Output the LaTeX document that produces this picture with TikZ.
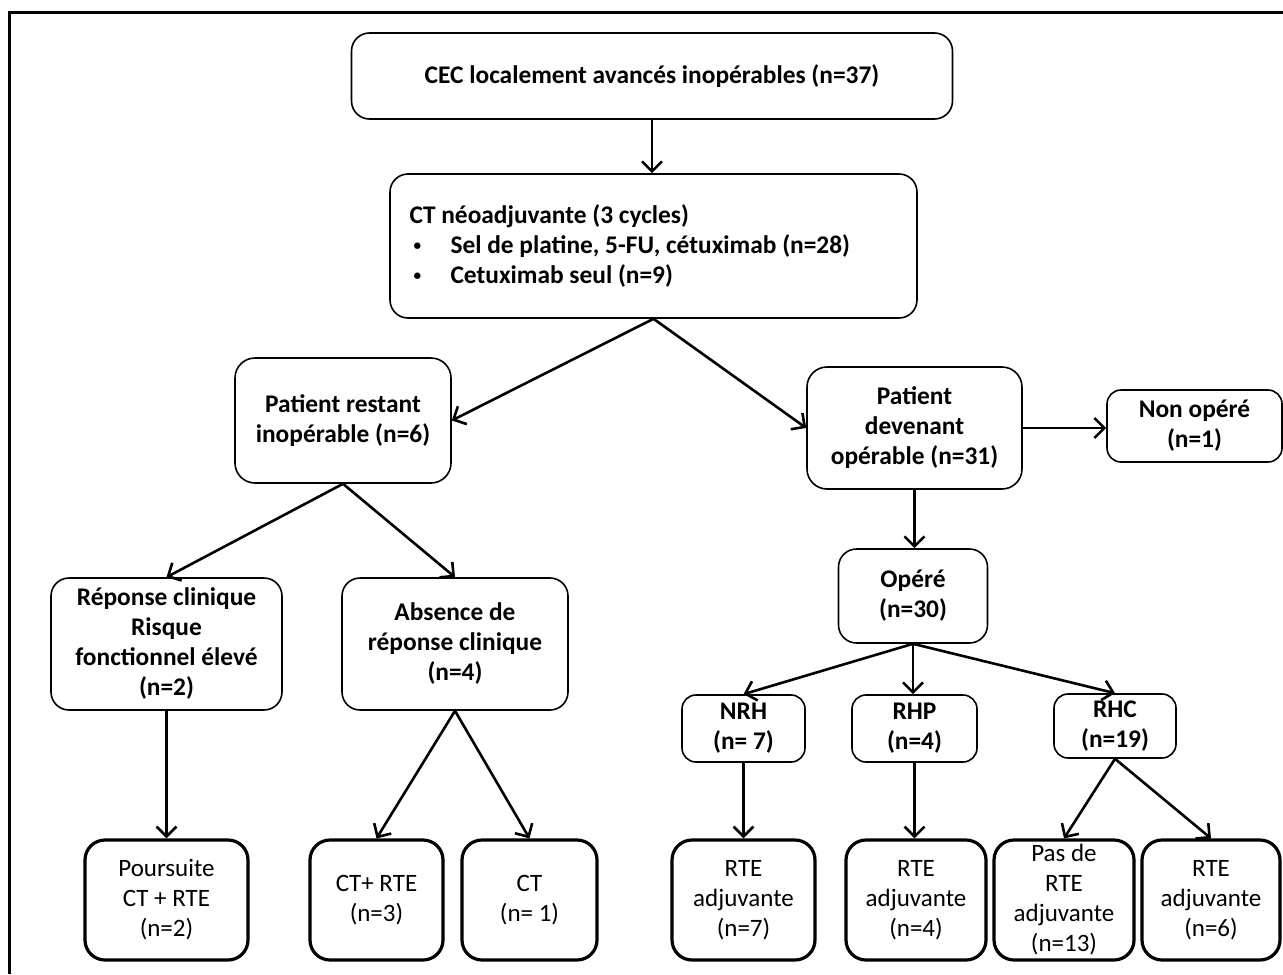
\documentclass[tikz,border=0pt]{standalone}
\usepackage{fontspec}
\setmainfont{Carlito}
\usetikzlibrary{arrows.meta}

\newcommand{\smallbullet}{\makebox[20.5pt][l]{\,\raisebox{0.25ex}{\scalebox{0.6}{•}}}}

\begin{document}
\begin{tikzpicture}
[x=0.5pt, y=-0.5pt,
 every node/.style={draw, rounded corners=9pt, align=center, inner sep=0pt, font=\fontsize{12.5}{15}\selectfont},
 box/.style={line width=0.8pt, font=\fontsize{12.7}{15}\selectfont\bfseries},
 endbox/.style={line width=1.6pt, rounded corners=10pt, minimum height=60pt},
 arr/.style={line width=1.3pt, -{Straight Barb[length=5pt,width=10pt]}}]
\useasboundingbox (0,0) rectangle (1283,974);
\draw[line width=1.5pt] (9,974) -- (9,13) -- (1283,13);

\node[box, minimum width=300.5pt, minimum height=43pt] (cec) at (652,76) {CEC localement avancés inopérables (n=37)};
\node[box, minimum width=263.5pt, minimum height=72pt, text width=244pt, align=flush left] (neo) at (653.5,246)
  {CT néoadjuvante (3 cycles)\\
   \smallbullet Sel de platine, 5-FU, cétuximab (n=28)\\
   \smallbullet Cetuximab seul (n=9)};

\node[box, minimum width=108pt, minimum height=62.5pt, rounded corners=10pt] (restant) at (343,420.5) {Patient restant\\inopérable (n=6)};
\node[box, minimum width=107.5pt, minimum height=61pt, rounded corners=10pt] (devenant) at (914.5,428) {Patient\\devenant\\opérable (n=31)};
\node[box, minimum width=87.5pt, minimum height=36pt, rounded corners=7pt] (nonop) at (1194.5,426) {Non opéré\\(n=1)};

\node[box, minimum width=115.5pt, minimum height=66pt] (reponse) at (166.5,644) {Réponse clinique\\Risque\\fonctionnel élevé\\(n=2)};
\node[box, minimum width=113pt, minimum height=66pt] (absence) at (455,644) {Absence de\\réponse clinique\\(n=4)};
\node[box, minimum width=74.5pt, minimum height=47pt] (opere) at (913,596) {Opéré\\(n=30)};

\node[box, minimum width=61.5pt, minimum height=33.5pt, rounded corners=7pt] (nrh) at (743.5,728.5) {NRH\\(n= 7)};
\node[box, minimum width=62.5pt, minimum height=33.5pt, rounded corners=7pt] (rhp) at (914.5,728.5) {RHP\\(n=4)};
\node[box, minimum width=61pt, minimum height=32pt, rounded corners=7pt] (rhc) at (1115,726) {RHC\\(n=19)};

\node[endbox, minimum width=81.5pt] (poursuite) at (166.5,900) {Poursuite\\CT + RTE\\(n=2)};
\node[endbox, minimum width=66.5pt] (ctrte) at (376.5,900) {CT+ RTE\\(n=3)};
\node[endbox, minimum width=67.5pt] (ct) at (529.5,900) {CT\\(n= 1)};
\node[endbox, minimum width=71.5pt] (rte7) at (743.5,900) {RTE\\adjuvante\\(n=7)};
\node[endbox, minimum width=70pt] (rte4) at (916,900) {RTE\\adjuvante\\(n=4)};
\node[endbox, minimum width=70pt] (pasde) at (1064,900) {Pas de\\RTE\\adjuvante\\(n=13)};
\node[endbox, minimum width=69pt] (rte6) at (1211,900) {RTE\\adjuvante\\(n=6)};

% straight down
\foreach \from/\to in {cec.south/neo.north,devenant.south/opere.north,reponse.south/poursuite.north,opere.south/rhp.north,nrh.south/rte7.north,rhp.south/rte4.north}
	\draw[arr] (\from) -- (\from |- \to);

% slanted
\foreach \from/\to in {neo.south/restant.east,neo.south/devenant.west,restant.south/reponse.north,restant.south/absence.north,absence.south/ctrte.north,absence.south/ct.north,opere.south/nrh.north,opere.south/rhc.north,rhc.south/pasde.north,rhc.south/rte6.north}
	\draw[arr] (\from) -- (\to);

\draw[arr] (devenant.east) -- (devenant.east -| nonop.west);

\end{tikzpicture}
\end{document}
